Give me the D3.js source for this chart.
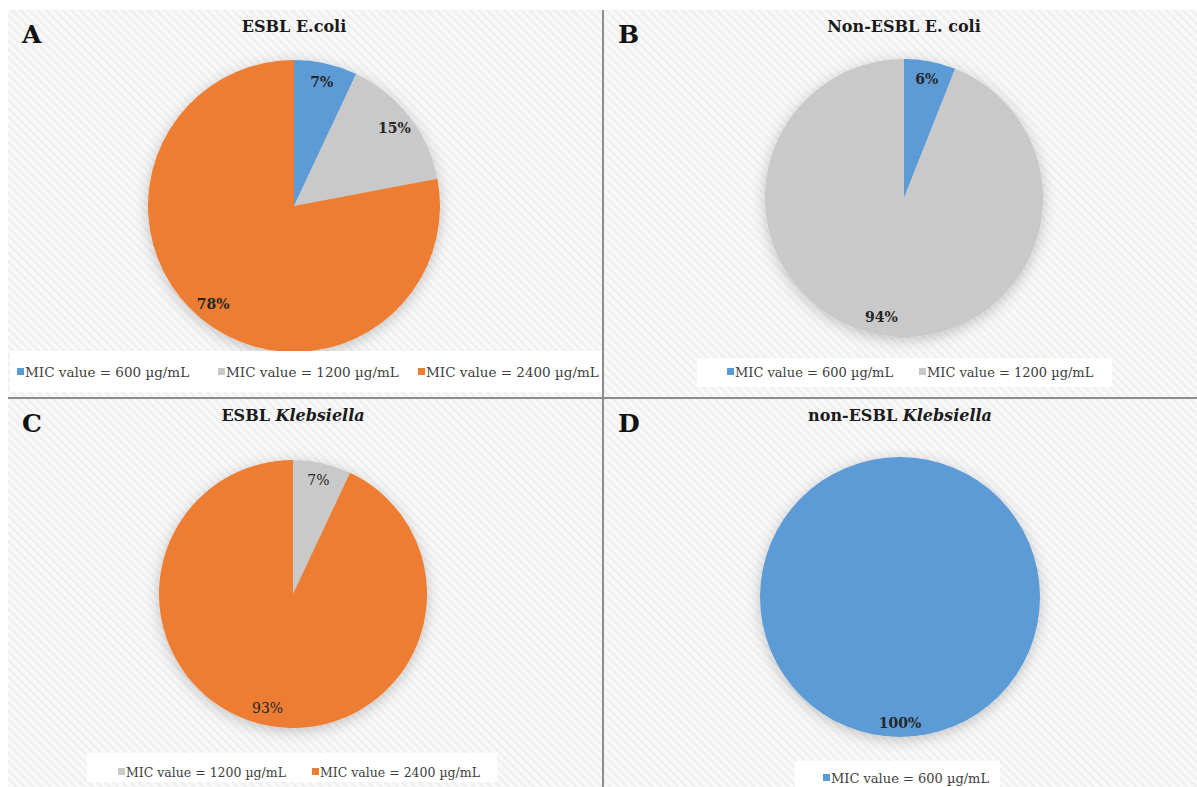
<!DOCTYPE html>
<html><head><meta charset="utf-8">
<script src="https://cdn.jsdelivr.net/npm/d3@7"></script>
<style>
html,body{margin:0;padding:0;background:#fff;}
svg{display:block;font-family:"DejaVu Serif",Georgia,serif;}
</style></head>
<body>
<svg id="chart" width="1197" height="787"></svg>
<script>
// ---- data ----
const categories = ["MIC value = 600 \u00b5g/mL", "MIC value = 1200 \u00b5g/mL", "MIC value = 2400 \u00b5g/mL"];
const panelLetters = ["A", "B", "C", "D"];
const panelTitles = [
  [{t:"ESBL E.coli", i:false}],
  [{t:"Non-ESBL E. coli", i:false}],
  [{t:"ESBL ", i:false}, {t:"Klebsiella", i:true}],
  [{t:"non-ESBL ", i:false}, {t:"Klebsiella", i:true}]
];
const esblEcoli = [7, 15, 78];
const nonEsblEcoli = [6, 94, 0];
const esblKlebsiella = [0, 7, 93];
const nonEsblKlebsiella = [100, 0, 0];
const seriesValues = [esblEcoli, nonEsblEcoli, esblKlebsiella, nonEsblKlebsiella];
const labelBold = [true, true, false, true];

// ---- style/layout ----
const colors = ["#5B9BD5", "#C9C9C9", "#ED7D31"];
const panels = [
  {x:8, y:10, w:594, h:387, cx:294, cy:206, r:146, ly:372, fs:13.5, lx:[17,218,418], box:[10,351,593,41]},
  {x:604, y:10, w:593, h:387, cx:904, cy:198, r:139, ly:372, fs:13, lx:[727,919], box:[697,358,415,29]},
  {x:8, y:399, w:594, h:388, cx:293, cy:594, r:134, ly:772, fs:12.5, lx:[118,312], box:[87,753,410,29]},
  {x:604, y:399, w:593, h:388, cx:900, cy:597, r:140, ly:778, fs:13, lx:[823], box:[795,761,205,26]}
];

const svg = d3.select("#chart");
const defs = svg.append("defs");
const pat = defs.append("pattern").attr("id","hatch").attr("patternUnits","userSpaceOnUse")
  .attr("width",6).attr("height",6).attr("patternTransform","rotate(-45)");
pat.append("rect").attr("width",6).attr("height",6).attr("fill","#f9f9f9");
pat.append("rect").attr("width",2.5).attr("height",6).attr("fill","#efefef");
const f = defs.append("filter").attr("id","shadow").attr("x","-20%").attr("y","-20%").attr("width","140%").attr("height","140%");
f.append("feDropShadow").attr("dx",0).attr("dy",3).attr("stdDeviation",7).attr("flood-color","#000").attr("flood-opacity",0.22);

const pie = d3.pie().sort(null).value(d => d.v);

panels.forEach((p, k) => {
  const g = svg.append("g");
  g.append("rect").attr("x",p.x).attr("y",p.y).attr("width",p.w).attr("height",p.h).attr("fill","url(#hatch)");

  const data = seriesValues[k].map((v,i) => ({v, i})).filter(d => d.v > 0);
  const arc = d3.arc().innerRadius(0).outerRadius(p.r);
  const lab = d3.arc().innerRadius(p.r*0.87).outerRadius(p.r*0.87);
  const arcs = pie(data);
  const pg = g.append("g").attr("transform",`translate(${p.cx},${p.cy})`);
  pg.append("g").attr("filter","url(#shadow)").selectAll("path").data(arcs).join("path")
    .attr("d", arc).attr("fill", d => colors[d.data.i]);
  pg.selectAll("text").data(arcs).join("text")
    .attr("transform", d => {
      const c = lab.centroid(d);
      if (d.endAngle - d.startAngle > 2*Math.PI - 1e-6) return `translate(0,${p.r*0.9})`;
      return `translate(${c})`;
    })
    .attr("text-anchor","middle").attr("dominant-baseline","central")
    .attr("font-size",14).attr("font-weight", labelBold[k] ? "bold" : "normal")
    .attr("fill","#262626")
    .text(d => d.data.v + "%");

  // legend box
  g.append("rect").attr("x",p.box[0]).attr("y",p.box[1]).attr("width",p.box[2]).attr("height",p.box[3]).attr("fill","#fff");
  const items = data.map(d => d.i);
  const its = g.append("g").selectAll("g").data(items).join("g")
    .attr("transform", (d,j) => `translate(${p.lx[j]},${p.ly})`);
  its.append("rect").attr("width",7).attr("height",7).attr("y",-4).attr("fill", i => colors[i]);
  its.append("text").attr("x",8).attr("dominant-baseline","central").attr("font-size",p.fs).attr("fill","#404040")
    .text(i => categories[i]);

  // title
  const tt = g.append("text").attr("x", p.cx).attr("y", p.y + 22)
    .attr("text-anchor","middle").attr("font-size",16).attr("font-weight","bold").attr("fill","#1a1a1a");
  panelTitles[k].forEach(s => tt.append("tspan").attr("font-style", s.i ? "italic" : "normal").text(s.t));
  // letter
  g.append("text").attr("x", p.x + 14).attr("y", p.y + 33).attr("font-size",25).attr("font-weight","bold")
    .attr("fill","#111").text(panelLetters[k]);
});

// dividers
svg.append("line").attr("x1",603).attr("x2",603).attr("y1",10).attr("y2",787).attr("stroke","#8c8c8c").attr("stroke-width",2);
svg.append("line").attr("x1",8).attr("x2",1197).attr("y1",398).attr("y2",398).attr("stroke","#8c8c8c").attr("stroke-width",2);
</script>
</body></html>
